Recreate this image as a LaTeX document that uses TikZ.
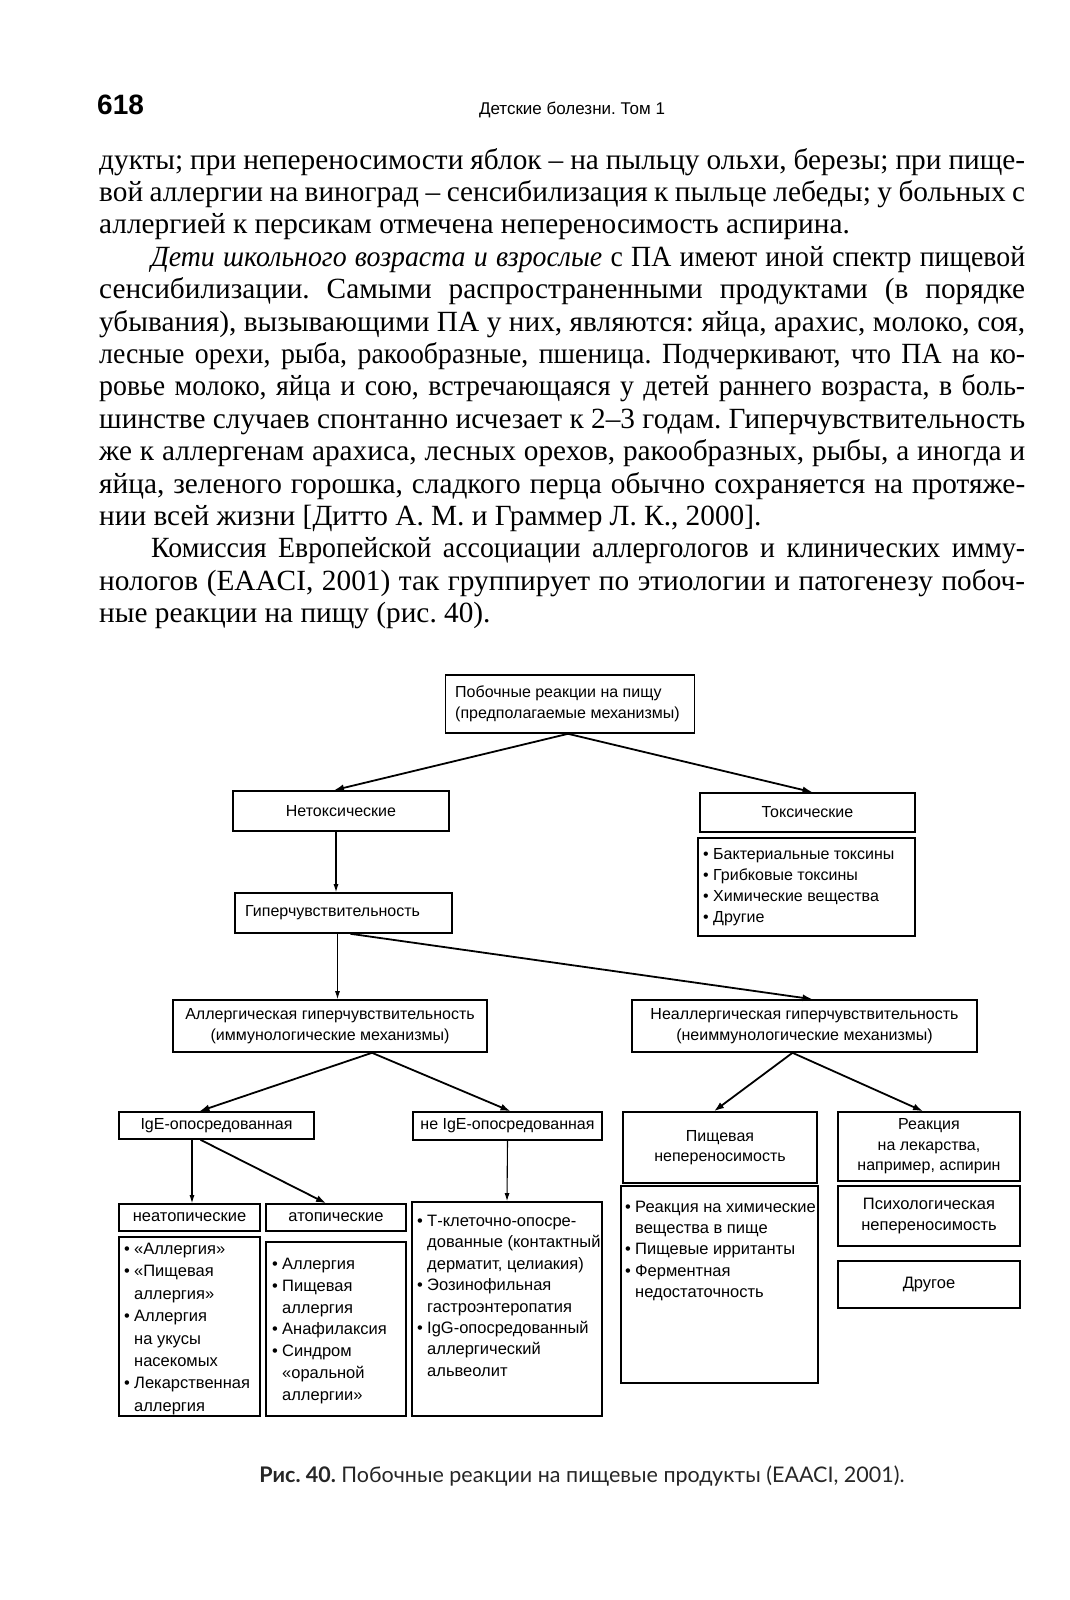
\documentclass[tikz,border=0pt]{standalone}
\usepackage{fontspec}
\setmainfont{Liberation Serif}
\newfontfamily\sansf{Liberation Sans}
\newfontfamily\capf{Lato}
\usetikzlibrary{arrows.meta,calc}
\frenchspacing
\newcommand\jl[1]{\makebox[926pt][s]{#1}}
\newcommand\jlf[1]{\makebox[874pt][s]{#1}}
\newcommand\nar{\addfontfeature{FakeStretch=0.95}}
\newcommand\bu{\makebox[10pt][l]{•}}
\newcommand\ci{\makebox[10pt][l]{}}
\newcommand\bodysize{\fontsize{29.3}{32}\selectfont\spaceskip=.25em plus .4em minus .13em\relax}
\begin{document}
\begin{tikzpicture}[x=1pt,y=-1pt,
  body/.style={anchor=base west,inner sep=0pt,font=\bodysize},
  bx/.style={draw,line width=1.6pt,inner sep=0pt,font=\sansf\fontsize{16}{20.5}\selectfont,align=center},
  bt/.style={inner sep=0pt,font=\sansf\fontsize{16}{21}\selectfont,align=left},
  lst/.style={inner sep=0pt,align=left},
  arr/.style={line width=1.8pt,-{Latex[length=10pt,width=7pt]}},
  varr/.style={line width=1.1pt,-{Latex[length=8pt,width=5pt]}}]
\useasboundingbox[fill=white] (0,0) rectangle (1070,1600);

% header
\node[anchor=base west,inner sep=0pt,font=\sansf\bfseries\fontsize{28}{30}\selectfont] (pg) at (97,115) {618};
\node[anchor=base,inner sep=0pt,font=\sansf\fontsize{17}{20}\selectfont] (hd) at (572,114) {Детские болезни. Том 1};

% body text
\node[body] (l1) at (99,169) {\jl{дукты; при непереносимости яблок – на пыльцу ольхи, березы; при пище-}};
\node[body] (l2) at (99,201.4) {\jl{вой аллергии на виноград – сенсибилизация к пыльце лебеды; у больных с}};
\node[body] (l3) at (99,233.8) {аллергией к персикам отмечена непереносимость аспирина.};
\node[body] (l4) at (151,266.2) {\nar\jlf{\textit{Дети школьного возраста и взрослые} с ПА имеют иной спектр пищевой}};
\node[body] (l5) at (99,298.6) {\jl{сенсибилизации. Самыми распространенными продуктами (в порядке}};
\node[body] (l6) at (99,331) {\jl{убывания), вызывающими ПА у них, являются: яйца, арахис, молоко, соя,}};
\node[body] (l7) at (99,363.4) {\nar\jl{лесные орехи, рыба, ракообразные, пшеница. Подчеркивают, что ПА на ко-}};
\node[body] (l8) at (99,395.8) {\nar\jl{ровье молоко, яйца и сою, встречающаяся у детей раннего возраста, в боль-}};
\node[body] (l9) at (99,428.2) {\jl{шинстве случаев спонтанно исчезает к 2–3 годам. Гиперчувствительность}};
\node[body] (l10) at (99,460.6) {\jl{же к аллергенам арахиса, лесных орехов, ракообразных, рыбы, а иногда и}};
\node[body] (l11) at (99,493) {\jl{яйца, зеленого горошка, сладкого перца обычно сохраняется на протяже-}};
\node[body] (l12) at (99,525.4) {нии всей жизни [Дитто А. М. и Граммер Л. К., 2000].};
\node[body] (l13) at (151,557.8) {\nar\jlf{Комиссия Европейской ассоциации аллергологов и клинических имму-}};
\node[body] (l14) at (99,590.2) {\jl{нологов (EAACI, 2001) так группирует по этиологии и патогенезу побоч-}};
\node[body] (l15) at (99,622.6) {ные реакции на пищу (рис. 40).};

% diagram boxes
\node[bx,minimum width=249pt,minimum height=58pt] (top) at (570,704) {};
\node[bt,anchor=west] (toptxt) at (455,704) {Побочные реакции на пищу\\(предполагаемые механизмы)};
\node[bx,minimum width=216pt,minimum height=40pt] (netox) at (341,811) {Нетоксические};
\node[bx,minimum width=215pt,minimum height=39pt] (tox) at (807.5,812.5) {Токсические};
\node[bx,minimum width=217pt,minimum height=98pt] (toxlist) at (806.5,887) {};
\node[bt,anchor=west] (toxtxt) at (703,887) {\bu Бактериальные токсины\\\bu Грибковые токсины\\\bu Химические вещества\\\bu Другие};
\node[bx,minimum width=217pt,minimum height=40pt] (hyper) at (343.5,913) {};
\node[bt,anchor=west] (hypertxt) at (245,913) {Гиперчувствительность};
\node[bx,minimum width=314pt,minimum height=52pt] (allerg) at (330,1026) {Аллергическая гиперчувствительность\\(иммунологические механизмы)};
\node[bx,minimum width=345pt,minimum height=52pt] (nonallerg) at (804.5,1026) {Неаллергическая гиперчувствительность\\(неиммунологические механизмы)};
\node[bx,minimum width=195pt,minimum height=27pt] (ige) at (216.5,1125.5) {IgE-опосредованная};
\node[bx,minimum width=189pt,minimum height=28pt] (nonige) at (507.5,1126) {не IgE-опосредованная};
\node[bx,minimum width=194pt,minimum height=71pt] (pishnep) at (720,1147.5) {Пищевая\\непереносимость};
\node[bx,minimum width=182pt,minimum height=69pt] (reakc) at (929,1146.5) {Реакция\\на лекарства,\\например, аспирин};
\node[bx,minimum width=141pt,minimum height=27pt,font=\sansf\fontsize{16.5}{20}\selectfont] (neat) at (189.5,1217.5) {неатопические};
\node[bx,minimum width=140pt,minimum height=27pt,font=\sansf\fontsize{16.5}{20}\selectfont] (atop) at (336,1217.5) {атопические};
\node[bx,minimum width=141pt,minimum height=179pt] (neatlist) at (189.5,1326.5) {};
\node[lst,anchor=north west,font=\sansf\fontsize{16.5}{22.4}\selectfont] (neattxt) at (124,1243) {\bu «Аллергия»\\\bu «Пищевая\\\ci аллергия»\\\bu Аллергия\\\ci на укусы\\\ci насекомых\\\bu Лекарственная\\\ci аллергия};
\node[bx,minimum width=140pt,minimum height=174pt] (atoplist) at (336,1329) {};
\node[lst,anchor=west,font=\sansf\fontsize{16.5}{21.8}\selectfont] (atoptxt) at (272,1331) {\bu Аллергия\\\bu Пищевая\\\ci аллергия\\\bu Анафилаксия\\\bu Синдром\\\ci «оральной\\\ci аллергии»};
\node[bx,minimum width=190pt,minimum height=214pt] (nonigelist) at (507,1309) {};
\node[lst,anchor=north west,font=\sansf\fontsize{16.5}{21.4}\selectfont] (nonigetxt) at (417,1215) {\bu Т-клеточно-опосре-\\\ci дованные (контактный\\\ci дерматит, целиакия)\\\bu Эозинофильная\\\ci гастроэнтеропатия\\\bu IgG-опосредованный\\\ci аллергический\\\ci альвеолит};
\node[bx,minimum width=197pt,minimum height=197pt] (pishlist) at (719.5,1284.5) {};
\node[lst,anchor=north west,font=\sansf\fontsize{16.5}{21.2}\selectfont] (pishtxt) at (625,1201) {\bu Реакция на химические\\\ci вещества в пище\\\bu Пищевые ирританты\\\bu Ферментная\\\ci недостаточность};
\node[bx,minimum width=182pt,minimum height=60pt,font=\sansf\fontsize{16.5}{20.5}\selectfont] (psych) at (929,1216) {Психологическая\\непереносимость};
\node[bx,minimum width=182pt,minimum height=47pt,font=\sansf\fontsize{16.5}{20.5}\selectfont] (drugoe) at (929,1284.5) {Другое};

% connectors
\draw[arr] ([xshift=-2pt]top.south) -- ([xshift=-7pt]netox.north);
\draw[arr] ([xshift=-2pt]top.south) -- ([xshift=5pt]tox.north);
\draw[varr] ([xshift=-5pt]netox.south) -- ($(netox.south |- hyper.north)+(-5,0)$);
\draw[varr] ([xshift=-6pt]hyper.south) -- ($(hyper.south |- allerg.north)+(-6,0)$);
\draw[arr] ([xshift=7pt]hyper.south) -- ([xshift=8pt]nonallerg.north);
\draw[arr] ([xshift=42pt]allerg.south) -- ([xshift=-17pt]ige.north);
\draw[arr] ([xshift=42pt]allerg.south) -- ([xshift=3pt]nonige.north);
\draw[arr] ([xshift=-12pt]nonallerg.south) -- ([xshift=-6pt]pishnep.north);
\draw[arr] ([xshift=-12pt]nonallerg.south) -- ([xshift=-6pt]reakc.north);
\draw[varr] ($(neat.north |- ige.south)+(2.5,0)$) -- ([xshift=2.5pt]neat.north);
\draw[arr] ([xshift=-16pt]ige.south) -- ([xshift=-10pt]atop.north);
\draw[varr] (nonige.south) -- (nonigelist.north);

% caption
\node[anchor=base,inner sep=0pt,font=\capf\fontsize{21.5}{24}\selectfont,text=black!85] (cap) at (582,1482) {\textbf{Рис. 40.} Побочные реакции на пищевые продукты (EAACI, 2001).};
\end{tikzpicture}
\end{document}
